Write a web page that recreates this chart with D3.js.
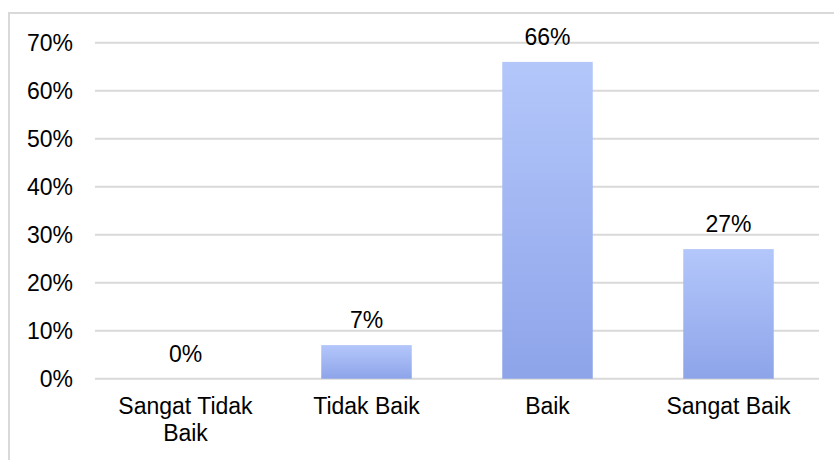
<!DOCTYPE html>
<html>
<head>
<meta charset="utf-8">
<script src="https://cdn.jsdelivr.net/npm/d3@7"></script>
<style>
  html, body { margin: 0; padding: 0; background: #fff; }
  svg { display: block; }
</style>
</head>
<body>
<svg id="chart" width="834" height="460"></svg>
<script>
// Response categories and their share of answers
const categories = ["Sangat Tidak Baik", "Tidak Baik", "Baik", "Sangat Baik"];
const categoryLines = [["Sangat Tidak", "Baik"], ["Tidak Baik"], ["Baik"], ["Sangat Baik"]];
const values = [0, 7, 66, 27];
const yTicks = [0, 10, 20, 30, 40, 50, 60, 70];

const svg = d3.select("#chart");
const font = "'Liberation Sans', Arial, sans-serif";
const fontSize = 23;

// Frame around the chart area
svg.append("rect")
  .attr("x", 9).attr("y", 13)
  .attr("width", 900).attr("height", 500)
  .attr("fill", "none")
  .attr("stroke", "#d9d9d9")
  .attr("stroke-width", 2);

const plot = { left: 95, right: 819, top: 42.7, bottom: 378.7 };

const x = d3.scaleBand()
  .domain(categories)
  .range([plot.left, plot.right])
  .paddingInner(0.5)
  .paddingOuter(0.25);

const y = d3.scaleLinear()
  .domain([0, 70])
  .range([plot.bottom, plot.top]);

// Vertical gradient fill for bars
const defs = svg.append("defs");
const grad = defs.append("linearGradient")
  .attr("id", "barGrad")
  .attr("x1", 0).attr("y1", 0).attr("x2", 0).attr("y2", 1);
grad.append("stop").attr("offset", "0%").attr("stop-color", "#b4c7fb");
grad.append("stop").attr("offset", "100%").attr("stop-color", "#8da4e9");

// Horizontal gridlines
svg.append("g")
  .selectAll("line")
  .data(yTicks)
  .join("line")
  .attr("x1", plot.left).attr("x2", plot.right)
  .attr("y1", d => y(d)).attr("y2", d => y(d))
  .attr("stroke", "#d9d9d9")
  .attr("stroke-width", 2);

// Y axis labels
const yAxis = d3.axisLeft(y)
  .tickValues(yTicks)
  .tickFormat(d => d + "%")
  .tickSize(0)
  .tickPadding(22);
const yg = svg.append("g")
  .attr("transform", `translate(${plot.left},0)`)
  .call(yAxis);
yg.select(".domain").remove();
yg.selectAll("text")
  .attr("font-family", font)
  .attr("font-size", fontSize)
  .attr("fill", "#000");

// Bars
svg.append("g")
  .selectAll("rect")
  .data(values)
  .join("rect")
  .attr("x", (d, i) => x(categories[i]))
  .attr("width", x.bandwidth())
  .attr("y", d => y(d))
  .attr("height", d => y(0) - y(d))
  .attr("fill", "url(#barGrad)");

// Value labels above bars
svg.append("g")
  .selectAll("text")
  .data(values)
  .join("text")
  .attr("x", (d, i) => x(categories[i]) + x.bandwidth() / 2)
  .attr("y", d => y(d) - 17)
  .attr("text-anchor", "middle")
  .attr("font-family", font)
  .attr("font-size", fontSize)
  .attr("fill", "#000")
  .text(d => d + "%");

// Category labels, wrapped over lines
const xl = svg.append("g")
  .selectAll("text")
  .data(categories)
  .join("text")
  .attr("x", d => x(d) + x.bandwidth() / 2)
  .attr("y", 414)
  .attr("text-anchor", "middle")
  .attr("font-family", font)
  .attr("font-size", fontSize)
  .attr("fill", "#000");
xl.each(function(d, i) {
  const t = d3.select(this);
  categoryLines[i].forEach((line, j) => {
    t.append("tspan")
      .attr("x", x(d) + x.bandwidth() / 2)
      .attr("dy", j === 0 ? 0 : 27)
      .text(line);
  });
});
</script>
</body>
</html>
